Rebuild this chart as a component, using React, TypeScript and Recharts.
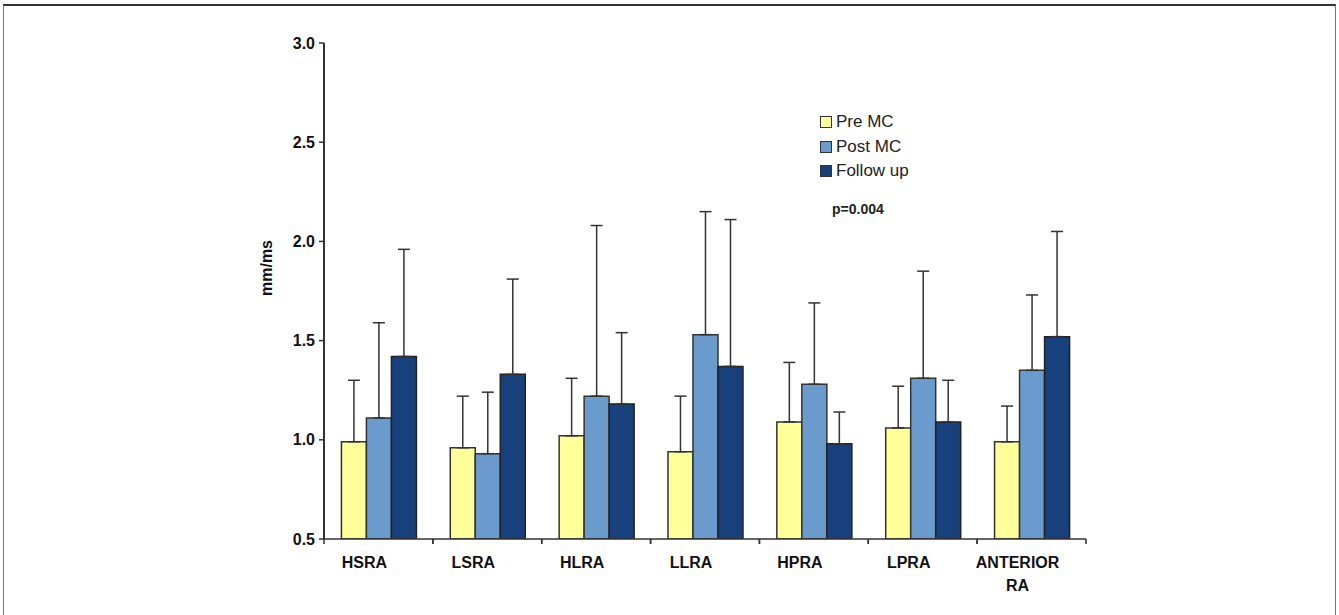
import { BarChart, Bar, XAxis, YAxis, ErrorBar, Legend, Label } from 'recharts'

const categories = ['HSRA', 'LSRA', 'HLRA', 'LLRA', 'HPRA', 'LPRA', 'ANTERIOR RA']
const preMC = [0.99, 0.96, 1.02, 0.94, 1.09, 1.06, 0.99]
const postMC = [1.11, 0.93, 1.22, 1.53, 1.28, 1.31, 1.35]
const followUp = [1.42, 1.33, 1.18, 1.37, 0.98, 1.09, 1.52]
const preSD = [0.31, 0.26, 0.29, 0.28, 0.3, 0.21, 0.18]
const postSD = [0.48, 0.31, 0.86, 0.62, 0.41, 0.54, 0.38]
const followSD = [0.54, 0.48, 0.36, 0.74, 0.16, 0.21, 0.53]
const yTicks = [0.5, 1.0, 1.5, 2.0, 2.5, 3.0]
const legendOrder = ['Pre MC', 'Post MC', 'Follow up']

const font = '"Liberation Sans", Arial, sans-serif'

const data = categories.map((name, i) => ({
  name,
  pre: preMC[i],
  post: postMC[i],
  follow: followUp[i],
  preErr: [0, preSD[i]],
  postErr: [0, postSD[i]],
  followErr: [0, followSD[i]],
}))

// category label, shifted a bit left like the original, plus tick marks on the band edges
const XTick = ({ x, y, payload }: any) => {
  const half = payload.offset ?? 0
  const words = String(payload.value).split(' ')
  return (
    <g>
      <line x1={x - half} x2={x - half} y1={y} y2={y + 5} stroke="#333" strokeWidth={1.5} />
      <line x1={x + half} x2={x + half} y1={y} y2={y + 5} stroke="#333" strokeWidth={1.5} />
      <text x={x - 14} y={y + 29} textAnchor="middle" fontFamily={font} fontWeight="bold" fontSize={16} fill="#111">
        {words.map((w, i) => (
          <tspan key={i} x={x - 14} dy={i === 0 ? 0 : 23}>{w}</tspan>
        ))}
      </text>
    </g>
  )
}

const LegendBox = ({ payload }: any) => {
  const items = [...(payload || [])].sort((a: any, b: any) => legendOrder.indexOf(a.value) - legendOrder.indexOf(b.value))
  return (
    <div style={{ fontFamily: font, fontSize: 17, color: '#222' }}>
      {items.map((p: any) => (
        <div key={p.value} style={{ display: 'flex', alignItems: 'center', height: 24.5 }}>
          <span style={{ width: 10, height: 10, background: p.color, border: '1.5px solid #333', marginRight: 4 }} />
          {p.value}
        </div>
      ))}
      <div style={{ fontWeight: 'bold', fontSize: 14, marginTop: 17, marginLeft: 12 }}>p=0.004</div>
    </div>
  )
}

export default function App() {
  return (
    <div style={{ position: 'absolute', left: 0, top: 0, width: 1339, height: 615, background: '#fff', overflow: 'hidden' }}>
      <div style={{ position: 'absolute', left: 3, top: 4, width: 1331, height: 700, borderTop: '2px solid #333', borderLeft: '1px solid #777', borderRight: '1px solid #777' }} />
      <div style={{ position: 'absolute', left: 0, top: 0 }}>
        <BarChart width={1339} height={615} data={data} margin={{ top: 43, right: 253, left: 240, bottom: 26 }}
          barCategoryGap="16%" barGap={0}>
          <XAxis dataKey="name" interval={0} height={50} tickSize={0} tickMargin={0} tick={<XTick />}
            axisLine={{ stroke: '#333', strokeWidth: 1.5 }} />
          <YAxis width={84} domain={[0.5, 3]} ticks={yTicks} allowDataOverflow interval={0}
            tickFormatter={(v: number) => v.toFixed(1)} tickSize={5} tickMargin={4}
            tick={{ fontFamily: font, fontWeight: 'bold', fontSize: 16, fill: '#111' }}
            tickLine={{ stroke: '#333', strokeWidth: 1.5 }} axisLine={{ stroke: '#333', strokeWidth: 2 }}>
            <Label content={({ viewBox }: any) => (
              <text x={viewBox.x + 32} y={viewBox.y + viewBox.height / 2 - 23} textAnchor="middle"
                transform={`rotate(-90 ${viewBox.x + 32} ${viewBox.y + viewBox.height / 2 - 23})`}
                fontFamily={font} fontWeight="bold" fontSize={16} fill="#111">mm/ms</text>
            )} />
          </YAxis>
          <Legend layout="vertical" align="center" verticalAlign="middle" content={<LegendBox />}
            wrapperStyle={{ left: 820, top: 110, width: 'auto', height: 'auto' }} />
          <Bar dataKey="pre" name="Pre MC" fill="#FFFF99" stroke="#333" strokeWidth={1.5} isAnimationActive={false}>
            <ErrorBar dataKey="preErr" width={6} stroke="#333" strokeWidth={1.5} direction="y" isAnimationActive={false} />
          </Bar>
          <Bar dataKey="post" name="Post MC" fill="#6A9BCC" stroke="#333" strokeWidth={1.5} isAnimationActive={false}>
            <ErrorBar dataKey="postErr" width={6} stroke="#333" strokeWidth={1.5} direction="y" isAnimationActive={false} />
          </Bar>
          <Bar dataKey="follow" name="Follow up" fill="#17407D" stroke="#222" strokeWidth={1.5} isAnimationActive={false}>
            <ErrorBar dataKey="followErr" width={6} stroke="#333" strokeWidth={1.5} direction="y" isAnimationActive={false} />
          </Bar>
        </BarChart>
      </div>
    </div>
  )
}
